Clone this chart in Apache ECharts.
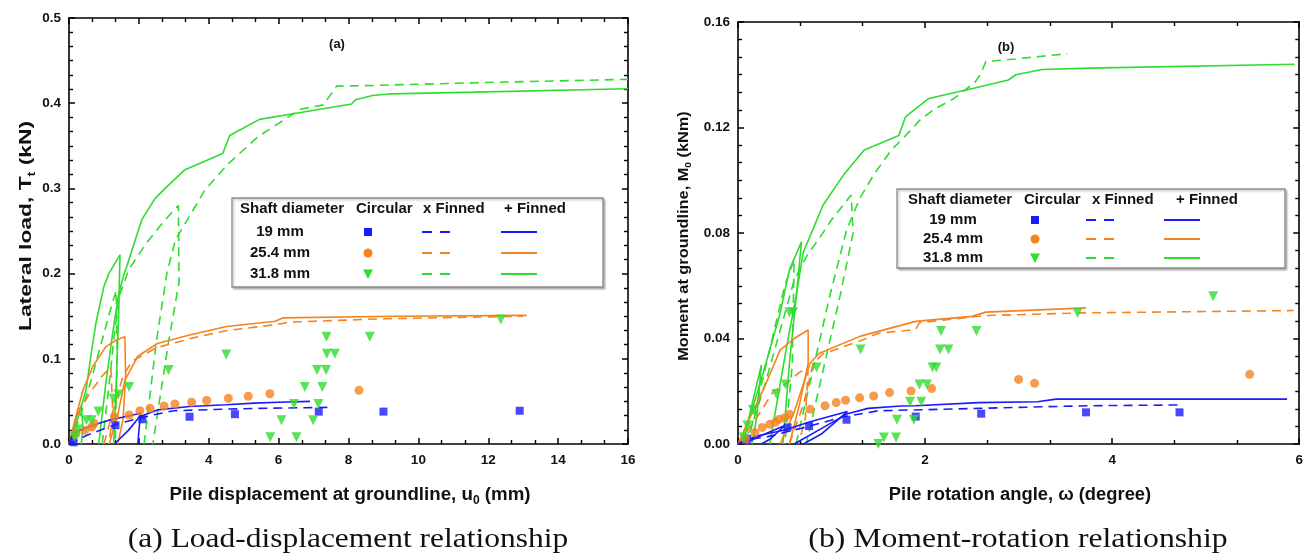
<!DOCTYPE html>
<html><head><meta charset="utf-8">
<script src="https://cdn.jsdelivr.net/npm/echarts@6/dist/echarts.min.js"></script>
<style>html,body{margin:0;padding:0;background:#fff}#c{width:1306px;height:556px}</style>
</head><body><div id="c"></div>
<script>
// ---------- Panel (a): lateral load (kN) vs displacement (mm) ----------
const aXTicks = [0, 2, 4, 6, 8, 10, 12, 14, 16];
const aYTicks = [0, 0.1, 0.2, 0.3, 0.4, 0.5];
const aGreenSolid = [
  [[0,0],[0.1,0.008],[0.25,0.03],[0.49,0.064],[0.65,0.11],[0.77,0.142],[1.0,0.185],[1.14,0.2],[1.46,0.222],[1.42,0.15],[1.35,0.07],[1.28,0]],
  [[0.85,0],[1.05,0.07],[1.25,0.13],[1.42,0.175],[1.55,0.196],[1.65,0.208],[2.08,0.263],[2.46,0.288],[2.75,0.3],[3.32,0.322],[4.4,0.341],[4.6,0.362],[5.45,0.381],[6.63,0.389],[8.09,0.399],[8.2,0.404],[8.69,0.409],[9.23,0.411],[11.6,0.413],[16,0.417]],
  [[0.05,0],[0.2,0.03],[0.35,0.045],[0.4,0.02],[0.35,0]]
];
const aGreenDash = [
  [[0,0],[0.3,0.03],[0.6,0.07],[0.95,0.122],[1.2,0.16],[1.35,0.18],[1.38,0.1],[1.32,0]],
  [[0.95,0],[1.15,0.07],[1.3,0.13],[1.45,0.175],[1.6,0.192],[1.7,0.204],[2.2,0.235],[2.75,0.263],[3.13,0.28],[3.15,0.19],[2.85,0.12],[2.4,0]],
  [[2.15,0],[2.5,0.12],[2.8,0.2],[3.05,0.24],[3.27,0.255],[3.89,0.298],[4.56,0.329],[5.42,0.361],[6.63,0.393],[7.28,0.398],[7.66,0.42],[8.9,0.421],[11.6,0.424],[16,0.428]]
];
const aOrangeSolid = [
  [[0,0],[0.15,0.025],[0.4,0.063],[0.68,0.091],[1.05,0.114],[1.35,0.122],[1.6,0.126],[1.62,0.08],[1.55,0.03],[1.4,0]],
  [[1.15,0],[1.4,0.035],[1.6,0.075],[1.97,0.103],[2.53,0.118],[3.45,0.128],[4.51,0.138],[5.9,0.144],[6.12,0.148],[9.35,0.15],[13.1,0.151]]
];
const aOrangeDash = [
  [[0,0],[0.3,0.04],[0.6,0.06],[0.95,0.08],[1.2,0.09],[1.25,0.04],[1.15,0]],
  [[1.0,0],[1.3,0.045],[1.55,0.08],[1.8,0.097],[2.5,0.113],[3.5,0.124],[4.5,0.133],[5.9,0.14],[6.3,0.143],[9,0.147],[13,0.15]]
];
const aBlueSolid = [
  [[0,0],[0.12,0.013],[0.68,0.022],[1.14,0.028],[1.6,0.032],[2.05,0.036],[2.0,0.015],[1.97,0]],
  [[1.3,0],[1.7,0.016],[2.02,0.032],[2.53,0.04],[3.45,0.044],[4.5,0.046],[5.3,0.048],[6.0,0.049],[6.9,0.05]]
];
const aBlueDash = [
  [[0,0],[0.5,0.01],[1.0,0.018],[1.5,0.025],[2.0,0.03],[2.5,0.035],[3.0,0.039],[4.5,0.041],[5.7,0.042],[7.5,0.043]]
];
const aSquares = [[0.13,0.002],[1.33,0.022],[2.1,0.029],[3.45,0.032],[4.75,0.035],[7.15,0.038],[9.0,0.038],[12.9,0.039]];
const aCircles = [[0.2,0.012],[0.45,0.016],[0.65,0.02],[0.72,0.024],[1.3,0.032],[1.72,0.034],[2.03,0.039],[2.32,0.042],[2.72,0.0446],[3.03,0.047],[3.51,0.049],[3.94,0.051],[4.56,0.0536],[5.13,0.056],[5.75,0.059],[8.3,0.063]];
const aTriangles = [[0.17,0.008],[0.25,0.017],[0.5,0.028],[0.65,0.028],[0.84,0.038],[1.28,0.053],[1.41,0.058],[1.72,0.067],[2.85,0.087],[4.5,0.105],[5.76,0.008],[6.08,0.028],[6.44,0.047],[6.51,0.008],[6.75,0.067],[6.99,0.028],[7.1,0.087],[7.14,0.047],[7.25,0.067],[7.36,0.087],[7.37,0.126],[7.38,0.106],[7.61,0.106],[8.61,0.126],[12.36,0.146]];

// ---------- Panel (b): moment (kNm) vs rotation (degree) ----------
const bXTicks = [0, 2, 4, 6];
const bYTicks = [0, 0.04, 0.08, 0.12, 0.16];
const bGreenSolid = [
  [[0,0],[0.056,0.002],[0.27,0.027],[0.45,0.0496],[0.55,0.066],[0.678,0.0767],[0.64,0.062],[0.55,0.0306],[0.48,0]],
  [[0.34,0],[0.52,0.0369],[0.62,0.0558],[0.695,0.0723],[0.73,0.0754],[0.91,0.0906],[1.14,0.1026],[1.35,0.1115],[1.72,0.117],[1.79,0.124],[2.04,0.131],[2.53,0.135],[2.89,0.138],[2.97,0.14],[3.25,0.142],[3.76,0.1425],[5.95,0.144]],
  [[0.05,0],[0.15,0.015],[0.25,0.03],[0.2,0.01],[0.15,0]]
];
const bGreenDash = [
  [[0,0],[0.13,0.005],[0.3,0.024],[0.45,0.043],[0.6,0.062],[0.75,0.0723],[0.85,0.077],[1.0,0.085],[1.21,0.0944],[1.23,0.08],[1.09,0.056],[0.73,0]],
  [[0.62,0],[0.98,0.056],[1.16,0.081],[1.3,0.093],[1.46,0.1026],[1.64,0.1115],[1.78,0.1165],[1.95,0.123],[2.1,0.127],[2.31,0.131],[2.53,0.137],[2.59,0.14],[2.65,0.145],[2.97,0.146],[3.52,0.148]],
  [[0.1,0],[0.3,0.03],[0.5,0.06],[0.6,0.07],[0.58,0.03],[0.5,0]]
];
const bOrangeSolid = [
  [[0,0],[0.1,0.008],[0.27,0.0205],[0.45,0.0356],[0.6,0.04],[0.75,0.0432],[0.75,0.0306],[0.66,0.0154],[0.55,0]],
  [[0.45,0],[0.6,0.012],[0.72,0.025],[0.77,0.0306],[0.87,0.0344],[1.31,0.0409],[1.69,0.0445],[1.9,0.0465],[2.5,0.0484],[2.65,0.05],[3.72,0.0516]]
];
const bOrangeDash = [
  [[0,0],[0.2,0.01],[0.38,0.02],[0.53,0.0233],[0.65,0.027],[0.75,0.029],[0.72,0.01],[0.65,0]],
  [[0.55,0],[0.7,0.015],[0.8,0.03],[0.9,0.034],[1.3,0.039],[1.5,0.042],[1.9,0.0434],[1.94,0.046],[2.65,0.0487],[3.68,0.0497],[5.94,0.0506]]
];
const bBlueSolid = [
  [[0,0],[0.2,0.003],[0.5,0.0053],[0.78,0.0085],[1.17,0.0123],[0.9,0.004],[0.7,0]],
  [[0.6,0],[0.9,0.006],[1.17,0.0115],[1.39,0.0135],[1.74,0.0144],[1.9,0.0145],[2.57,0.0157],[3.2,0.016],[3.4,0.017],[5.87,0.017]],
  [[0.05,0],[0.3,0.004],[0.5,0.007],[0.35,0.002],[0.25,0]]
];
const bBlueDash = [
  [[0,0],[0.07,0.0015],[0.32,0.0028],[0.68,0.006],[1.14,0.0104],[1.5,0.0126],[2.57,0.0135],[3.72,0.0145],[4.72,0.0148]]
];
const bSquares = [[0.1,0.002],[0.53,0.0063],[0.76,0.0068],[1.16,0.0092],[1.9,0.0104],[2.6,0.0115],[3.72,0.012],[4.72,0.012]];
const bCircles = [[0.08,0.002],[0.18,0.0044],[0.26,0.0063],[0.34,0.0075],[0.4,0.0082],[0.44,0.0094],[0.5,0.01],[0.55,0.0113],[0.77,0.0132],[0.93,0.0145],[1.05,0.0157],[1.15,0.0166],[1.3,0.0175],[1.45,0.0182],[1.62,0.0195],[1.85,0.0201],[2.07,0.021],[3.0,0.0245],[3.17,0.023],[5.47,0.0264]];
const bTriangles = [[0.06,0.0025],[0.1,0.007],[0.16,0.0129],[0.41,0.019],[0.51,0.0226],[0.55,0.05],[0.59,0.05],[0.84,0.029],[1.31,0.0358],[1.5,0.0],[1.56,0.0025],[1.69,0.0025],[1.7,0.0092],[1.84,0.016],[1.88,0.0092],[1.96,0.016],[1.94,0.0226],[2.02,0.0226],[2.08,0.029],[2.12,0.029],[2.16,0.0358],[2.17,0.0428],[2.25,0.0358],[2.55,0.0428],[3.63,0.0497],[5.08,0.056]];

const legendRows = ['19 mm', '25.4 mm', '31.8 mm'];
const legendHead = ['Shaft diameter', 'Circular', 'x Finned', '+ Finned'];

// ---------- styling ----------
const BLUE = '#1a1aff', ORANGE = '#f5831f', GREEN = '#2fdc2f';
const FONT = "'Liberation Sans', Arial, sans-serif";
const colors = [BLUE, ORANGE, GREEN];

function axisX(gi, min, max, interval, pos, labels) {
  return {
    type: 'value', gridIndex: gi, min, max, interval, position: pos,
    axisLine: { show: true, onZero: false, lineStyle: { color: '#000', width: 1.6 } },
    axisTick: { show: true, inside: true, length: 6, lineStyle: { color: '#000', width: 1.5 } },
    minorTick: { show: true, splitNumber: 3, length: 4, lineStyle: { color: '#000', width: 1.4 } },
    splitLine: { show: false }, minorSplitLine: { show: false },
    axisLabel: { show: labels, color: '#111', fontFamily: FONT, fontWeight: 'bold', fontSize: 13.5, margin: 9,
      formatter: v => String(v) }
  };
}
function axisY(gi, min, max, interval, pos, labels, dec) {
  return {
    type: 'value', gridIndex: gi, min, max, interval, position: pos,
    axisLine: { show: true, onZero: false, lineStyle: { color: '#000', width: 1.6 } },
    axisTick: { show: true, inside: true, length: 6, lineStyle: { color: '#000', width: 1.5 } },
    minorTick: { show: true, splitNumber: 6, length: 4, lineStyle: { color: '#000', width: 1.4 } },
    splitLine: { show: false }, minorSplitLine: { show: false },
    axisLabel: { show: labels, color: '#111', fontFamily: FONT, fontWeight: 'bold', fontSize: 13.5, margin: 8,
      formatter: v => v.toFixed(dec) }
  };
}

const series = [];
function addLines(segs, color, dashed, gi) {
  segs.forEach(s => series.push({
    type: 'line', data: s, xAxisIndex: gi * 2, yAxisIndex: gi * 2, symbol: 'none', silent: true,
    lineStyle: { color, width: 1.6, type: dashed ? [9, 6] : 'solid' }, z: 3, animation: false
  }));
}
function addScatter(pts, color, symbol, size, gi, rot) {
  series.push({
    type: 'scatter', data: pts, xAxisIndex: gi * 2, yAxisIndex: gi * 2, symbol, symbolSize: size,
    symbolRotate: rot || 0, itemStyle: { color }, z: 4, silent: true, animation: false
  });
}
addLines(aGreenSolid, GREEN, false, 0); addLines(aGreenDash, GREEN, true, 0);
addLines(aOrangeSolid, ORANGE, false, 0); addLines(aOrangeDash, ORANGE, true, 0);
addLines(aBlueSolid, BLUE, false, 0); addLines(aBlueDash, BLUE, true, 0);
addScatter(aSquares, BLUE, 'rect', 8, 0); addScatter(aCircles, ORANGE, 'circle', 9, 0);
addScatter(aTriangles, GREEN, 'triangle', 10, 0, 180);
addLines(bGreenSolid, GREEN, false, 1); addLines(bGreenDash, GREEN, true, 1);
addLines(bOrangeSolid, ORANGE, false, 1); addLines(bOrangeDash, ORANGE, true, 1);
addLines(bBlueSolid, BLUE, false, 1); addLines(bBlueDash, BLUE, true, 1);
addScatter(bSquares, BLUE, 'rect', 8, 1); addScatter(bCircles, ORANGE, 'circle', 9, 1);
addScatter(bTriangles, GREEN, 'triangle', 10, 1, 180);

// ---------- graphic: titles, legends ----------
const g = [];
function txt(x, y, text, font, align, rich, rot, sx, sy) {
  const el = { type: 'text', x, y, rotation: rot || 0, scaleX: sx || 1, scaleY: sy || 1, z: 20,
    style: { text, font, fill: '#111', align: align || 'center', verticalAlign: 'middle' } };
  if (rich) el.style.rich = rich;
  g.push(el);
}
function richOf(size) {
  return {
    a: { fontFamily: FONT, fontWeight: 'bold', fontSize: size, lineHeight: size + 5, verticalAlign: 'middle', fill: '#111' },
    s: { fontFamily: FONT, fontWeight: 'bold', fontSize: Math.round(size * 0.65), lineHeight: size + 5, verticalAlign: 'bottom', fill: '#111' }
  };
}
txt(27, 226, '{a|Lateral load, T}{s|t}{a| (kN)}', 'bold 19px ' + FONT, 'center', richOf(19), Math.PI / 2, 1.2, 0.85);
txt(684, 236, '{a|Moment at groundline, M}{s|0}{a| (kNm)}', 'bold 16px ' + FONT, 'center', richOf(16), Math.PI / 2, 1.02, 0.9);
txt(350, 495, '{a|Pile displacement at groundline, u}{s|0}{a| (mm)}', 'bold 17px ' + FONT, 'center', richOf(17), 0, 1.1, 1.1);
txt(1020, 495, '{a|Pile rotation angle, ω (degree)}', 'bold 17px ' + FONT, 'center', richOf(17), 0, 1.08, 1.1);
txt(337, 44, '(a)', 'bold 13px ' + FONT);
txt(1006, 47, '(b)', 'bold 13px ' + FONT);
txt(348, 540, '(a) Load-displacement relationship', "26px 'Liberation Serif', 'Times New Roman', serif", 'center', null, 0, 1.21, 1.05);
txt(1018, 540, '(b) Moment-rotation relationship', "26px 'Liberation Serif', 'Times New Roman', serif", 'center', null, 0, 1.22, 1.05);

function legend(L) {
  g.push({ type: 'rect', z: 15, shape: { x: L.x, y: L.y, width: L.w, height: L.h },
    style: { fill: '#fff', stroke: '#8a8a8a', lineWidth: 1.3, shadowColor: 'rgba(0,0,0,0.25)', shadowOffsetX: 1.5, shadowOffsetY: 1.5, shadowBlur: 2 } });
  const f = 'bold 14px ' + FONT;
  legendHead.forEach((h, i) => g.push({ type: 'text', x: L.head[i], y: L.hy, scaleX: 1.07, z: 20,
    style: { text: h, font: f, fill: '#111', align: 'left', verticalAlign: 'middle' } }));
  legendRows.forEach((r, i) => {
    const y = L.rows[i], c = colors[i];
    txt(L.rowX, y, r, f, 'center', null, 0, 1.07, 1);
    if (i === 0) g.push({ type: 'rect', z: 21, shape: { x: L.mk - 4, y: y - 4, width: 8, height: 8 }, style: { fill: c } });
    if (i === 1) g.push({ type: 'circle', z: 21, shape: { cx: L.mk, cy: y, r: 4.5 }, style: { fill: c } });
    if (i === 2) g.push({ type: 'polygon', z: 21, shape: { points: [[L.mk - 5, y - 4.5], [L.mk + 5, y - 4.5], [L.mk, y + 5]] }, style: { fill: c } });
    g.push({ type: 'line', z: 21, shape: { x1: L.d1, y1: y, x2: L.d2, y2: y }, style: { stroke: c, lineWidth: 1.8, lineDash: [10, 8] } });
    g.push({ type: 'line', z: 21, shape: { x1: L.s1, y1: y, x2: L.s2, y2: y }, style: { stroke: c, lineWidth: 1.8 } });
  });
}
legend({ x: 232, y: 198, w: 371, h: 89, head: [240, 356, 423, 504], hy: 209, rows: [232, 253, 274], rowX: 280, mk: 368, d1: 422, d2: 450, s1: 501, s2: 537 });
legend({ x: 897, y: 189, w: 388, h: 79, head: [908, 1024, 1092, 1176], hy: 200, rows: [220, 239, 258], rowX: 953, mk: 1035, d1: 1086, d2: 1116, s1: 1164, s2: 1200 });

const option = {
  animation: false,
  backgroundColor: '#fff',
  grid: [
    { left: 69, top: 18, width: 559, height: 426 },
    { left: 738, top: 22, width: 562, height: 422 }
  ],
  xAxis: [
    axisX(0, aXTicks[0], aXTicks[aXTicks.length - 1], 2, 'bottom', true),
    axisX(0, aXTicks[0], aXTicks[aXTicks.length - 1], 2, 'top', false),
    axisX(1, bXTicks[0], bXTicks[bXTicks.length - 1], 2, 'bottom', true),
    axisX(1, bXTicks[0], bXTicks[bXTicks.length - 1], 2, 'top', false)
  ],
  yAxis: [
    axisY(0, aYTicks[0], aYTicks[aYTicks.length - 1], 0.1, 'left', true, 1),
    axisY(0, aYTicks[0], aYTicks[aYTicks.length - 1], 0.1, 'right', false, 1),
    axisY(1, bYTicks[0], bYTicks[bYTicks.length - 1], 0.04, 'left', true, 2),
    axisY(1, bYTicks[0], bYTicks[bYTicks.length - 1], 0.04, 'right', false, 2)
  ],
  series,
  graphic: g
};
const chart = echarts.init(document.getElementById('c'), null, { renderer: 'canvas' });
chart.setOption(option);
</script></body></html>
